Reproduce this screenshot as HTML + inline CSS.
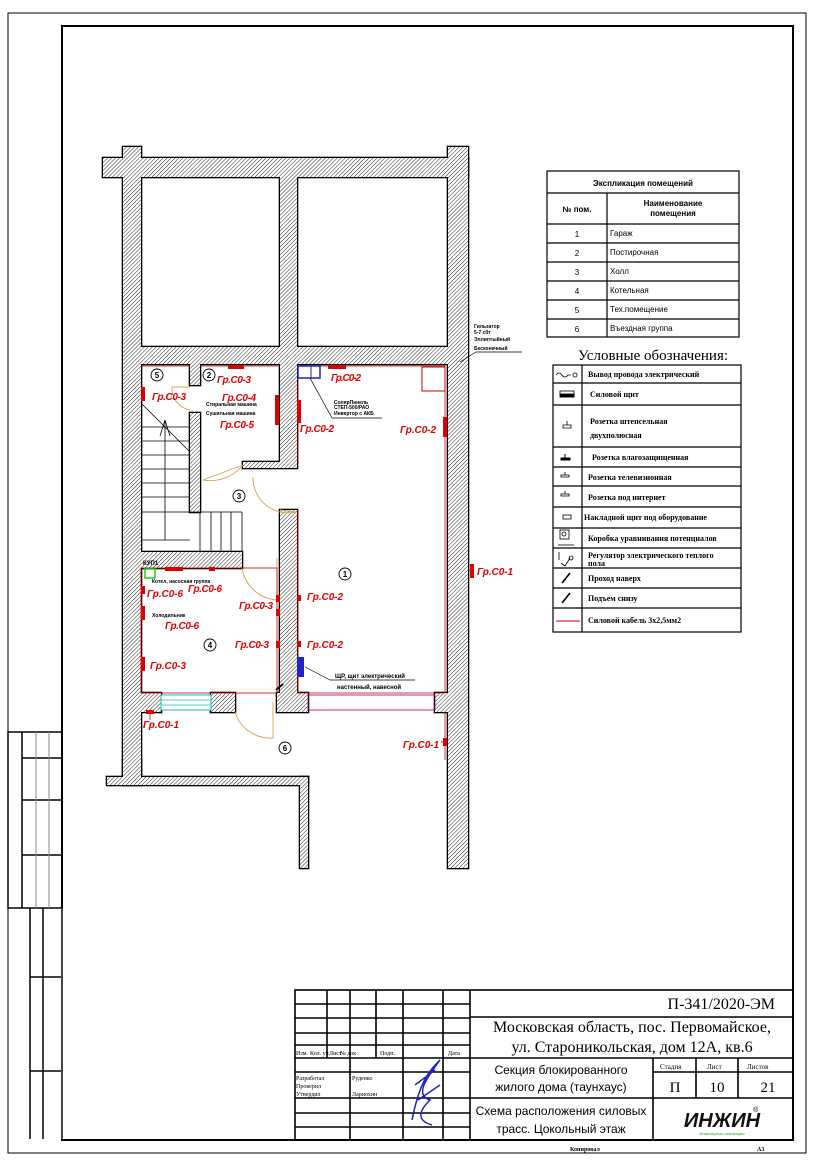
<!DOCTYPE html>
<html><head><meta charset="utf-8"><style>
html,body{margin:0;padding:0;background:#fff;}
svg{display:block;}
.r{font-family:"Liberation Sans",sans-serif;font-style:italic;font-weight:bold;font-size:10px;fill:#e00000;}
.s{font-family:"Liberation Sans",sans-serif;font-size:5px;fill:#000;font-weight:bold;}
.t{font-family:"Liberation Sans",sans-serif;font-size:8px;fill:#000;}
.tb{font-family:"Liberation Sans",sans-serif;font-size:8px;font-weight:bold;fill:#000;}
.sf{font-family:"Liberation Serif",serif;fill:#000;}
</style></head><body>
<svg width="814" height="1166" viewBox="0 0 814 1166" xmlns="http://www.w3.org/2000/svg">
<defs>
<pattern id="h" width="2.8" height="2.8" patternUnits="userSpaceOnUse" patternTransform="rotate(45)">
<rect width="2.8" height="2.8" fill="#fff"/><line x1="0" y1="0" x2="0" y2="2.8" stroke="#222" stroke-width="1"/>
</pattern>
</defs>
<!-- frames -->
<rect x="8" y="13" width="798" height="1140" fill="none" stroke="#000" stroke-width="1"/>
<rect x="62" y="26" width="731" height="1114" fill="none" stroke="#000" stroke-width="2"/>
<!-- left stamp -->
<g stroke="#000" stroke-width="1.5" fill="none">
<rect x="8" y="732" width="54" height="176"/>
<line x1="22" y1="732" x2="22" y2="908"/>
<line x1="22" y1="758" x2="62" y2="758"/><line x1="22" y1="800" x2="62" y2="800"/><line x1="22" y1="855" x2="62" y2="855"/>
<line x1="30" y1="908" x2="30" y2="1139"/><line x1="43" y1="908" x2="43" y2="1139"/>
<line x1="30" y1="977" x2="62" y2="977"/><line x1="30" y1="1071" x2="62" y2="1071"/>
</g>
<g stroke="#888" stroke-width="1"><line x1="36" y1="732" x2="36" y2="908"/><line x1="49" y1="732" x2="49" y2="908"/><line x1="62" y1="908" x2="62" y2="1139"/></g>

<!-- walls: stroke pass -->
<g stroke="#000" stroke-width="2.6" fill="#000">
<rect x="103" y="158" width="365" height="19"/>
<rect x="123" y="147" width="18" height="11"/>
<rect x="448" y="147" width="20" height="11"/>
<rect x="123" y="158" width="18" height="619"/>
<rect x="448" y="158" width="20" height="710"/>
<rect x="280" y="177" width="17" height="187"/>
<rect x="141" y="347" width="307" height="17"/>
<rect x="190" y="364" width="10" height="21"/>
<rect x="280" y="364" width="17" height="98"/>
<rect x="243" y="462" width="54" height="6"/>
<rect x="280" y="510" width="17" height="183"/>
<rect x="190" y="413" width="10" height="99"/>
<rect x="141" y="552" width="101" height="16"/>
<rect x="141" y="693" width="20" height="19"/>
<rect x="211" y="693" width="24" height="19"/>
<rect x="277" y="693" width="31" height="19"/>
<rect x="435" y="693" width="13" height="19"/>
<rect x="107" y="777" width="201" height="8"/>
<rect x="123" y="760" width="18" height="25"/>
<rect x="300" y="777" width="8" height="91"/>
</g>
<g fill="url(#h)" stroke="none">
<rect x="103" y="158" width="365" height="19"/>
<rect x="123" y="147" width="18" height="11"/>
<rect x="448" y="147" width="20" height="11"/>
<rect x="123" y="158" width="18" height="619"/>
<rect x="448" y="158" width="20" height="710"/>
<rect x="280" y="177" width="17" height="187"/>
<rect x="141" y="347" width="307" height="17"/>
<rect x="190" y="364" width="10" height="21"/>
<rect x="280" y="364" width="17" height="98"/>
<rect x="243" y="462" width="54" height="6"/>
<rect x="280" y="510" width="17" height="183"/>
<rect x="190" y="413" width="10" height="99"/>
<rect x="141" y="552" width="101" height="16"/>
<rect x="141" y="693" width="20" height="19"/>
<rect x="211" y="693" width="24" height="19"/>
<rect x="277" y="693" width="31" height="19"/>
<rect x="435" y="693" width="13" height="19"/>
<rect x="107" y="777" width="201" height="8"/>
<rect x="123" y="760" width="18" height="25"/>
<rect x="300" y="777" width="8" height="91"/>
</g>
<!-- window -->
<rect x="161" y="695" width="50" height="15" fill="#fff" stroke="#2bb" stroke-width="1"/>
<g stroke="#2bb" stroke-width="0.8"><line x1="161" y1="700" x2="211" y2="700"/><line x1="161" y1="705" x2="211" y2="705"/></g>
<!-- garage gate -->
<rect x="308" y="695" width="127" height="15" fill="none" stroke="#a06" stroke-width="0.8"/>

<!-- stairs -->
<g stroke="#000" stroke-width="0.8">
<line x1="141" y1="427" x2="190" y2="427"/><line x1="141" y1="441" x2="190" y2="441"/><line x1="141" y1="455" x2="190" y2="455"/><line x1="141" y1="469" x2="190" y2="469"/><line x1="141" y1="483" x2="190" y2="483"/><line x1="141" y1="497" x2="190" y2="497"/><line x1="141" y1="512" x2="242" y2="512"/><line x1="141" y1="540" x2="190" y2="540"/>
<line x1="165" y1="420" x2="165" y2="540"/><line x1="141" y1="403" x2="190" y2="452"/>
<line x1="160" y1="436" x2="165" y2="420"/><line x1="170" y1="436" x2="165" y2="420"/>
<line x1="200" y1="512" x2="200" y2="552"/><line x1="211" y1="512" x2="211" y2="552"/><line x1="221" y1="512" x2="221" y2="552"/><line x1="231" y1="512" x2="231" y2="552"/><line x1="242" y1="512" x2="242" y2="552"/>
</g>
<!-- doors -->
<g fill="none" stroke="#d9a050" stroke-width="0.9">
<path d="M190 387 L172 387 A22 22 0 0 0 190 410"/>
<path d="M203 480 L243 465 M203 480 A42 42 0 0 0 243 465"/>
<path d="M253 477 A35 35 0 0 0 296 512 M296 512 L280 510"/>
<path d="M242 568 A38 38 0 0 0 277 600 L277 558"/>
<path d="M235 712 A37 37 0 0 0 273 738 L273 702"/>
</g>
<line x1="276" y1="690" x2="283" y2="684" stroke="#000" stroke-width="2"/>

<!-- red cable lines -->
<g stroke="#c00" stroke-width="0.8" fill="none">
<rect x="141" y="568" width="136" height="125"/>
<polyline points="298,462 298,366 445,366 445,693 298,693 298,510"/>
<line x1="141" y1="366" x2="190" y2="366"/><line x1="200" y1="366" x2="278" y2="366"/>
<line x1="468" y1="571" x2="472" y2="571"/><line x1="150" y1="712" x2="150" y2="720"/><line x1="441" y1="742" x2="444" y2="742"/>
<line x1="445" y1="712" x2="445" y2="760"/>
</g>
<rect x="422" y="367" width="23" height="24" fill="none" stroke="#c00" stroke-width="1"/>
<!-- sockets -->
<g fill="#e00000">
<rect x="228" y="365" width="16" height="4"/><rect x="328" y="365" width="18" height="4"/>
<rect x="165" y="567" width="18" height="4"/><rect x="209" y="567" width="6" height="4"/>
<rect x="141" y="387" width="4" height="14"/><rect x="275" y="395" width="4" height="30"/>
<rect x="297" y="400" width="4" height="23"/><rect x="443" y="417" width="4" height="20"/>
<rect x="470" y="564" width="4" height="14"/>
<rect x="141" y="586" width="4" height="8"/><rect x="141" y="606" width="4" height="14"/><rect x="141" y="657" width="4" height="14"/>
<rect x="276" y="595" width="4" height="7"/><rect x="276" y="609" width="4" height="7"/><rect x="276" y="641" width="4" height="7"/>
<rect x="297" y="595" width="4" height="6"/><rect x="297" y="641" width="4" height="6"/>
<rect x="146" y="710" width="8" height="4"/><rect x="443" y="738" width="4" height="8"/>
</g>
<!-- blue panels -->
<rect x="298" y="366" width="22" height="12" fill="none" stroke="#22c" stroke-width="1.5"/>
<line x1="311" y1="366" x2="311" y2="378" stroke="#22c"/>
<rect x="297" y="657" width="7" height="20" fill="#22c"/>
<rect x="145" y="569" width="10" height="9" fill="none" stroke="#2c2" stroke-width="1.5"/>
<!-- leaders -->
<g stroke="#000" stroke-width="0.7">
<line x1="310" y1="378" x2="332" y2="418"/><line x1="332" y1="418" x2="382" y2="418"/>
<line x1="305" y1="667" x2="330" y2="680"/><line x1="330" y1="680" x2="415" y2="680"/>
<line x1="460" y1="362" x2="476" y2="352"/><line x1="476" y1="352" x2="522" y2="352"/>
</g>
<!-- labels -->
<g class="r">
<text x="152" y="400" textLength="34">Гр.С0-3</text>
<text x="217" y="383" textLength="34">Гр.С0-3</text>
<text x="222" y="401" textLength="34">Гр.С0-4</text>
<text x="220" y="428" textLength="34">Гр.С0-5</text>
<text x="331" y="381" textLength="30">Гр.С0-2</text>
<text x="300" y="432" textLength="34">Гр.С0-2</text>
<text x="400" y="433" textLength="36">Гр.С0-2</text>
<text x="477" y="575" textLength="36">Гр.С0-1</text>
<text x="147" y="597" textLength="36">Гр.С0-6</text>
<text x="188" y="592" textLength="34">Гр.С0-6</text>
<text x="165" y="629" textLength="34">Гр.С0-6</text>
<text x="150" y="669" textLength="36">Гр.С0-3</text>
<text x="239" y="609" textLength="34">Гр.С0-3</text>
<text x="235" y="648" textLength="34">Гр.С0-3</text>
<text x="307" y="600" textLength="36">Гр.С0-2</text>
<text x="307" y="648" textLength="36">Гр.С0-2</text>
<text x="143" y="728" textLength="36">Гр.С0-1</text>
<text x="403" y="748" textLength="36">Гр.С0-1</text>
</g>
<g class="s">
<text x="206" y="406">Стиральная машина</text>
<text x="206" y="415">Сушильная машина</text>
<text x="334" y="404">СолярПанель</text><text x="334" y="409">СТЕП-500/РАО</text><text x="334" y="415">Инвертор с АКБ</text>
<text x="152" y="583">Котел, насосная группа</text>
<text x="152" y="617">Холодильник</text>
<text x="143" y="565" font-size="6">КУП1</text>
<text x="474" y="328">Гильзатор</text><text x="474" y="334">5-7 сбт</text><text x="474" y="341">Эллиптыйный</text><text x="474" y="350">Бесконечный</text>
<text x="335" y="678" font-size="6">ЩР, щит электрический</text>
<text x="337" y="689" font-size="6">настенный, навесной</text>
</g>
<!-- circles -->
<g fill="none" stroke="#000" stroke-width="0.9">
<circle cx="157" cy="375" r="6"/><circle cx="209" cy="375" r="6"/><circle cx="239" cy="496" r="6"/>
<circle cx="345" cy="574" r="6"/><circle cx="210" cy="645" r="6"/><circle cx="285" cy="748" r="6"/>
</g>
<g class="tb" text-anchor="middle" font-size="8">
<text x="157" y="378">5</text><text x="209" y="378">2</text><text x="239" y="499">3</text><text x="345" y="577">1</text><text x="210" y="648">4</text><text x="285" y="751">6</text>
</g>

<!-- explication table -->
<g stroke="#000" stroke-width="1.2" fill="none">
<rect x="547" y="171" width="192" height="166"/>
<line x1="547" y1="193" x2="739" y2="193"/><line x1="547" y1="224" x2="739" y2="224"/>
<line x1="547" y1="243" x2="739" y2="243"/><line x1="547" y1="262" x2="739" y2="262"/>
<line x1="547" y1="281" x2="739" y2="281"/><line x1="547" y1="300" x2="739" y2="300"/>
<line x1="547" y1="319" x2="739" y2="319"/><line x1="607" y1="193" x2="607" y2="337"/>
</g>
<g class="tb">
<text x="643" y="186" text-anchor="middle">Экспликация помещений</text>
<text x="577" y="212" text-anchor="middle">№ пом.</text>
<text x="673" y="206" text-anchor="middle">Наименование</text><text x="673" y="216" text-anchor="middle">помещения</text>
</g>
<g class="t">
<text x="577" y="237" text-anchor="middle">1</text><text x="610" y="236">Гараж</text>
<text x="577" y="256" text-anchor="middle">2</text><text x="610" y="255">Постирочная</text>
<text x="577" y="275" text-anchor="middle">3</text><text x="610" y="274">Холл</text>
<text x="577" y="294" text-anchor="middle">4</text><text x="610" y="293">Котельная</text>
<text x="577" y="313" text-anchor="middle">5</text><text x="610" y="312">Тех.помещение</text>
<text x="577" y="332" text-anchor="middle">6</text><text x="610" y="331">Въездная группа</text>
</g>
<text x="653" y="360" class="sf" font-size="15" text-anchor="middle">Условные обозначения:</text>
<!-- legend table -->
<g stroke="#000" stroke-width="1.2" fill="none">
<rect x="553" y="365" width="188" height="267"/>
<line x1="582" y1="365" x2="582" y2="632"/>
<line x1="553" y1="383" x2="741" y2="383"/><line x1="553" y1="405" x2="741" y2="405"/>
<line x1="553" y1="447" x2="741" y2="447"/><line x1="553" y1="467" x2="741" y2="467"/>
<line x1="553" y1="486" x2="741" y2="486"/><line x1="553" y1="507" x2="741" y2="507"/>
<line x1="553" y1="528" x2="741" y2="528"/><line x1="553" y1="548" x2="741" y2="548"/>
<line x1="553" y1="568" x2="741" y2="568"/><line x1="553" y1="588" x2="741" y2="588"/>
<line x1="553" y1="608" x2="741" y2="608"/>
</g>
<g font-family="Liberation Serif,serif" font-size="8" font-weight="bold" fill="#000">
<text x="588" y="377">Вывод провода электрический</text>
<text x="590" y="397">Силовой щит</text>
<text x="590" y="424">Розетка штепсельная</text><text x="590" y="438">двухполюсная</text>
<text x="592" y="460">Розетка влагозащищенная</text>
<text x="588" y="480">Розетка телевизионная</text>
<text x="588" y="500">Розетка под интернет</text>
<text x="584" y="520">Накладной щит под оборудование</text>
<text x="588" y="541">Коробка уравнивания потенциалов</text>
<text x="588" y="558">Регулятор электрического теплого</text><text x="588" y="566">пола</text>
<text x="588" y="581">Проход наверх</text>
<text x="588" y="601">Подъем снизу</text>
<text x="588" y="623">Силовой кабель 3х2,5мм2</text>
</g>
<g stroke="#000" fill="none" stroke-width="0.8">
<path d="M556 375 q3 -4 6 0 t6 0 l3 0"/><circle cx="575" cy="375" r="2"/>
<rect x="560" y="391" width="14" height="6"/><rect x="560" y="394" width="14" height="3" fill="#000"/>
<path d="M563 428 h8 v-3 h-8z M567 425 v-4"/>
<path d="M561 477 h8 v-2 h-8z M565 475 v-3"/><path d="M561 496 h8 v-2 h-8z M565 494 v-3"/>
<rect x="563" y="515" width="8" height="4"/>
<rect x="560" y="530" width="9" height="9"/><circle cx="564" cy="534" r="2"/><line x1="558" y1="545" x2="574" y2="545"/>
<path d="M559 552 v8 M571 556 a2 2 0 1 0 0.1 0 M561 563 l4 3 l5 -8"/>
<line x1="562" y1="583" x2="570" y2="573" stroke-width="1.6"/><line x1="562" y1="603" x2="570" y2="593" stroke-width="1.6"/>
</g>
<line x1="556" y1="621" x2="580" y2="621" stroke="#c00" stroke-width="1"/>
<path d="M561 460 h9 v-2 h-9z M565 458 v-4" fill="#000" stroke="#000"/>

<!-- title block -->
<g stroke="#000" stroke-width="1.6" fill="none">
<rect x="295" y="990" width="498" height="150"/>
<line x1="470" y1="990" x2="470" y2="1140"/>
<line x1="327" y1="990" x2="327" y2="1058"/><line x1="350" y1="990" x2="350" y2="1140"/>
<line x1="376" y1="990" x2="376" y2="1058"/><line x1="403" y1="990" x2="403" y2="1140"/><line x1="443" y1="990" x2="443" y2="1140"/>
<line x1="295" y1="1004" x2="470" y2="1004"/><line x1="295" y1="1018" x2="470" y2="1018"/><line x1="295" y1="1033" x2="470" y2="1033"/><line x1="295" y1="1045" x2="470" y2="1045"/>
<line x1="295" y1="1058" x2="793" y2="1058"/>
<line x1="295" y1="1072" x2="470" y2="1072"/><line x1="295" y1="1098" x2="793" y2="1098"/><line x1="295" y1="1113" x2="470" y2="1113"/><line x1="295" y1="1127" x2="470" y2="1127"/>
<line x1="470" y1="1017" x2="793" y2="1017"/>
<line x1="653" y1="1058" x2="653" y2="1098"/><line x1="696" y1="1058" x2="696" y2="1098"/><line x1="738" y1="1058" x2="738" y2="1098"/>
<line x1="653" y1="1072" x2="793" y2="1072"/><line x1="653" y1="1098" x2="653" y2="1140"/>
</g>
<g class="sf" font-size="6">
<text x="296" y="1055">Изм.</text><text x="310" y="1055">Кол. уч</text><text x="329" y="1055">Лист</text><text x="340" y="1055">№ док</text><text x="380" y="1055">Подп.</text><text x="448" y="1055">Дата</text>
<text x="296" y="1080">Разработал</text><text x="352" y="1080">Руденко</text>
<text x="296" y="1088">Проверил</text>
<text x="296" y="1096">Утвердил</text><text x="352" y="1096">Лариохин</text>
<text x="570" y="1151" font-weight="bold">Копировал</text><text x="757" y="1151" font-weight="bold">А3</text>
<text x="660" y="1069" font-size="7">Стадия</text><text x="707" y="1069" font-size="7">Лист</text><text x="747" y="1069" font-size="7">Листов</text>
</g>
<text x="775" y="1009" class="sf" font-size="16" text-anchor="end">П-341/2020-ЭМ</text>
<text x="632" y="1032" class="sf" font-size="16" text-anchor="middle">Московская область, пос. Первомайское,</text>
<text x="632" y="1052" class="sf" font-size="16" text-anchor="middle">ул. Староникольская, дом 12А, кв.6</text>
<text x="561" y="1074" font-family="Liberation Sans,sans-serif" font-size="12" text-anchor="middle">Секция блокированного</text>
<text x="561" y="1091" font-family="Liberation Sans,sans-serif" font-size="12" text-anchor="middle">жилого дома (таунхаус)</text>
<text x="675" y="1092" class="sf" font-size="15" text-anchor="middle">П</text>
<text x="717" y="1092" class="sf" font-size="15" text-anchor="middle">10</text>
<text x="768" y="1092" class="sf" font-size="15" text-anchor="middle">21</text>
<text x="561" y="1115" font-family="Liberation Sans,sans-serif" font-size="12" text-anchor="middle">Схема расположения силовых</text>
<text x="561" y="1133" font-family="Liberation Sans,sans-serif" font-size="12" text-anchor="middle">трасс. Цокольный этаж</text>
<text x="722" y="1127" font-family="Liberation Sans,sans-serif" font-size="20" font-weight="bold" font-style="italic" text-anchor="middle" fill="#111">ИНЖИН</text>
<text x="722" y="1135" font-family="Liberation Sans,sans-serif" font-size="4" text-anchor="middle" fill="#2a2">Инженерные инновации</text>
<text x="753" y="1112" font-family="Liberation Sans,sans-serif" font-size="7">®</text>
<path d="M412 1120 C420 1080 430 1070 440 1060 C425 1080 415 1095 430 1100 C420 1110 415 1120 432 1125 M415 1085 L435 1070 M418 1100 L440 1085" fill="none" stroke="#22b" stroke-width="1.5"/>
</svg>
</body></html>
